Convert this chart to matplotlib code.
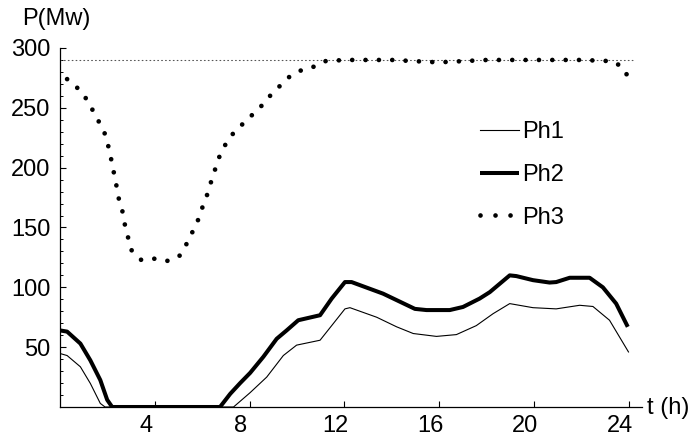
import matplotlib
matplotlib.use("Agg")
import matplotlib.pyplot as plt
import matplotlib.transforms as mtransforms
from matplotlib.ticker import MultipleLocator

plt.rcParams['font.family'] = ['Liberation Sans', 'DejaVu Sans']
plt.rcParams['lines.scale_dashes'] = False

# Ph1 (thin line)
t1 = [0, 0.3, 0.86, 1.28, 1.7, 1.9, 7.32, 8.02, 8.72, 9.42, 9.98, 10.97, 11.46,
      12.02, 12.23, 13.36, 14.2, 14.9, 15.88, 16.72, 17.56, 18.27, 18.97, 19.95,
      20.93, 21.92, 22.48, 23.18, 23.98]
p1 = [44.7, 43, 33.6, 19.7, 3, 0, 0, 12, 25, 43, 51.7, 55.8, 68,
      82, 83, 75, 67, 61.4, 59, 60.5, 68, 78, 86.4, 83,
      82, 85, 84, 72.5, 46]

# Ph2 (thick line)
t2 = [0, 0.3, 0.86, 1.28, 1.7, 1.99, 2.2, 6.75, 7.18, 7.6, 8.02, 8.58, 9.14,
      9.56, 10.05, 10.97, 11.46, 12.02, 12.3, 13.63, 14.97, 15.46, 16.44, 17.0,
      17.7, 18.13, 18.97, 19.25, 19.95, 20.65, 20.93, 21.5, 22.34, 22.9, 23.46,
      23.95]
p2 = [64, 63, 53, 39, 22.5, 6, 0, 0, 11, 20, 28.5, 42, 57,
      64, 72.5, 76.7, 90.6, 104.4, 104.4, 94.7, 82, 81, 81, 83.6,
      90.6, 96, 110, 109.4, 106, 104, 104.4, 108, 108, 100, 86.4,
      67]

# Ph3 (dotted)
t3 = [0.3, 0.77, 1.09, 1.38, 1.65, 1.9, 2.05, 2.17, 2.28, 2.39, 2.49, 2.64,
      2.74, 2.88, 3.02, 3.42, 3.95, 4.51, 5.03, 5.33, 5.58, 5.8, 6.01, 6.2,
      6.37, 6.55, 6.72, 6.97, 7.28, 7.68, 8.05, 8.47, 8.86, 9.26, 9.68, 10.13,
      10.66, 11.19, 12, 14, 15.95, 18, 20, 22, 23.29, 23.74, 23.98]
p3 = [274, 266, 258, 248, 238, 228, 217, 206, 195, 184, 173, 163,
      152, 141, 131, 123, 124, 122, 126, 136, 146, 155, 167, 177,
      188, 199, 209, 219, 228, 236, 243, 251, 260, 268, 276, 281,
      284, 289, 290, 290, 288, 290, 290, 290, 289, 284, 275]

p_max = 290
x_ticks = [4, 8, 12, 16, 20, 24]
y_ticks = [50, 100, 150, 200, 250, 300]

fig = plt.figure(figsize=(6.89, 4.37), dpi=100)
ax = fig.add_axes([60 / 689, 1 - 407 / 437, 582 / 689, 359 / 437])

ax.plot([0, 24.2], [p_max, p_max], color='#555555', lw=0.8,
        dashes=(0.6, 2.2), dash_capstyle='round')
ax.plot(t1, p1, color='black', lw=0.8, label='Ph1')
ax.plot(t2, p2, color='black', lw=2.9, label='Ph2', solid_capstyle='butt')
ax.plot(t3, p3, color='black', lw=3.4, label='Ph3',
        dashes=(0.01, 9.6), dash_capstyle='round')

ax.set_xlim(0, 24.55)
ax.set_ylim(0, 300)
ax.spines['top'].set_visible(False)
ax.spines['right'].set_visible(False)
for s in ['left', 'bottom']:
    ax.spines[s].set_linewidth(0.9)

ax.set_xticks(x_ticks)
ax.set_yticks(y_ticks)
ax.yaxis.set_minor_locator(MultipleLocator(10))
ax.tick_params(axis='both', which='major', direction='in', length=4,
               width=0.8, labelsize=17)
ax.tick_params(axis='y', which='minor', direction='in', length=2.5, width=0.7)
ax.tick_params(axis='y', which='major', pad=7)
ax.tick_params(axis='x', which='major', pad=6)

shift = mtransforms.ScaledTranslation(-9 / 100, 0, fig.dpi_scale_trans)
for lab in ax.get_xticklabels():
    lab.set_transform(lab.get_transform() + shift)

fig.text(22 / 689, 1 - 19 / 437, 'P(Mw)', fontsize=17, va='center', ha='left')
fig.text(647 / 689, 1 - 408 / 437, 't (h)', fontsize=17, va='center', ha='left')

leg = ax.legend(loc='upper left', bbox_to_anchor=(480 / 689, 1 - 121 / 437),
                bbox_transform=fig.transFigure, frameon=False, fontsize=17,
                handlelength=1.65, handletextpad=0.12, labelspacing=0.88,
                borderpad=0, borderaxespad=0)
leg.get_lines()[2].set_dashes((0.01, 10.8))

fig.savefig('out.png', dpi=100)
